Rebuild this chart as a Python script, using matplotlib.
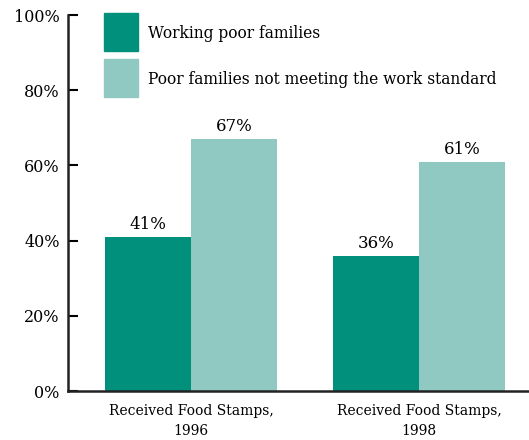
import numpy as np
import matplotlib
matplotlib.use("Agg")
import matplotlib.pyplot as plt
from matplotlib.patches import Rectangle

plt.rcParams['font.family'] = ['DejaVu Serif']

categories = ['Received Food Stamps,\n1996', 'Received Food Stamps,\n1998']
series_names = ['Working poor families', 'Poor families not meeting the work standard']
working_poor = [41, 36]
not_meeting = [67, 61]
yticks = [0, 20, 40, 60, 80, 100]

dark = '#00907c'
light = '#90c9c2'

fig = plt.figure(figsize=(5.29, 4.40), dpi=100)
ax = fig.add_axes([68/529, 1 - 391/440, 1 - 68/529, (391 - 15)/440])

x = np.arange(len(categories))
w = 0.377
b1 = ax.bar(x - w/2, working_poor, w, color=dark)
b2 = ax.bar(x + w/2, not_meeting, w, color=light)

for bars, vals in ((b1, working_poor), (b2, not_meeting)):
    for r, v in zip(bars, vals):
        ax.text(r.get_x() + r.get_width()/2, v + 1.0, f'{v}%',
                ha='center', va='bottom', fontsize=12)

ax.set_xlim(-0.539, 1.482)
ax.set_ylim(0, 100)
ax.set_yticks(yticks)
ax.set_yticklabels([f'{t}%' for t in yticks], fontsize=11.5)
ax.set_xticks(x)
ax.set_xticklabels(categories, fontsize=10, linespacing=1.55)
ax.tick_params(axis='x', length=0, pad=9)
ax.tick_params(axis='y', direction='in', length=7, width=1.5, pad=6)
for s in ('top', 'right'):
    ax.spines[s].set_visible(False)
for s in ('left', 'bottom'):
    ax.spines[s].set_linewidth(1.8)
    ax.spines[s].set_color('#222222')

# legend boxes drawn in figure pixels
def fig_box(x0, y0, x1, y1, color):
    fig.patches.append(Rectangle((x0/529, 1 - y1/440), (x1 - x0)/529, (y1 - y0)/440,
                                 transform=fig.transFigure, color=color))

fig_box(104, 13, 138, 51, dark)
fig_box(104, 59, 138, 97, light)
fig.text(148/529, 1 - 33/440, series_names[0], va='center', fontsize=11.2)
fig.text(148/529, 1 - 79/440, series_names[1], va='center', fontsize=11.2)

fig.savefig('out.png', dpi=100)
